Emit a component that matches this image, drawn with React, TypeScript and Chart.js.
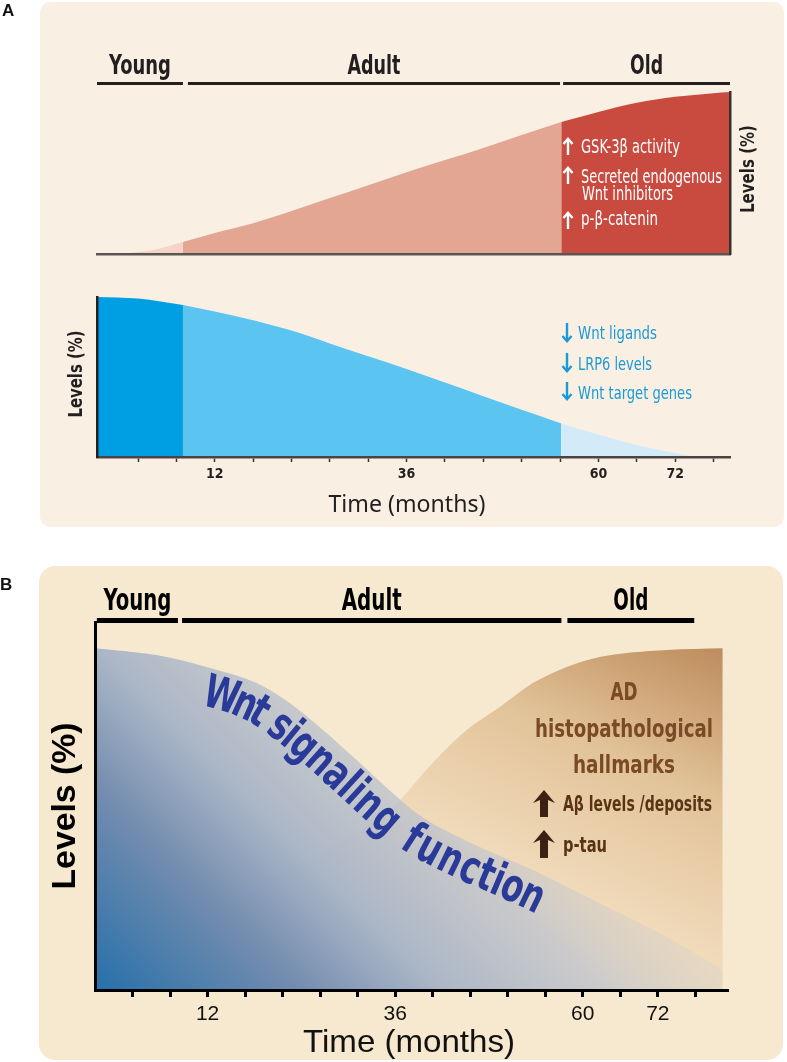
import { useEffect, useRef } from 'react';
import { Chart, registerables } from 'chart.js';

Chart.register(...registerables);

const W = 787;
const H = 1062;

// ---------- shared schematic time axis (1 unit = 1 tick mark) ----------
const tickPositions = [1, 2, 3, 4, 5, 6, 7, 8, 9, 10, 11, 12, 13, 14, 15, 16];
const tickLabels = ['', '', '', '12', '', '', '', '', '36', '', '', '', '', '60', '', '72', ''];
const phaseNames = ['Young', 'Adult', 'Old'];

// ---------- Panel A ----------
const phaseStartA = [-0.07, 2.3, 12.08];
const phaseEndA = [2.17, 12.0, 16.43];
const segmentBoundsA = [-0.07, 2.17, 12.03, 16.43];

const redX = [-0.07, 0.5, 1, 1.5, 2.17, 3, 4, 5, 6, 7, 8, 9, 10, 11, 12.03, 13, 14, 15, 16, 16.43];
const redLevels = [0, 0.3, 1.2, 3, 7.4, 13, 19, 26.5, 34.5, 42.5, 50.5, 58, 65.5, 73.5, 81.5, 87.7, 93.3, 97, 99.3, 100];
const redColors = ['#f5d3c8', '#e3a693', '#c94a3f'];

const blueX = [-0.07, 1, 2.17, 3, 4, 5, 6, 7, 8, 9, 10, 11, 12.03, 13, 14, 15, 15.5, 16, 16.43];
const blueLevels = [100, 99, 95, 91, 85.5, 79, 71, 63, 55, 46.5, 38, 29.5, 21, 14, 7.5, 2.5, 0.4, 0, 0];
const blueColors = ['#009fe3', '#5bc4f1', '#d3ebf9'];

const redNotes = ['GSK-3β activity', 'Secreted endogenous', 'Wnt inhibitors', 'p-β-catenin'];
const blueNotes = ['Wnt ligands', 'LRP6 levels', 'Wnt target genes'];

// ---------- Panel B ----------
const phaseStartB = [0.05, 2.32, 12.59];
const phaseEndB = [2.21, 12.43, 15.97];

const wntX = [0, 1.64, 2.97, 4.31, 5.19, 6.07, 6.97, 7.85, 8.65, 9.91, 11.67, 13.45, 15.24, 16.73];
const wntLevels = [92.9, 91, 87.8, 83.4, 78, 70.7, 62.5, 54.3, 47.5, 40.5, 32.6, 23.6, 14.4, 5.4];

const adX = [0, 1.72, 3.67, 5.19, 6.07, 7.85, 9, 9.91, 10.79, 11.67, 12.57, 13.45, 15.24, 16.73];
const adLevels = [0, 9.5, 23.1, 33.2, 38, 48.9, 61.7, 70.7, 76.9, 83.4, 87.8, 90.5, 92.4, 92.9];

const adTitle = ['AD', 'histopathological', 'hallmarks'];
const adNotes = ['Aβ levels /deposits', 'p-tau'];
const wntTitle = 'Wnt signaling function';
const wntTextStart = 3.1;
const wntTextEnd = 12.2;

// ---------- fonts ----------
const COND = '"DejaVu Sans Condensed", "DejaVu Sans", sans-serif';
const SANS = '"Noto Sans", "Open Sans", sans-serif';
const ARIAL = '"Liberation Sans", Arial, sans-serif';

type TOpt = {
  size: number;
  weight?: string;
  family?: string;
  color: string;
  align?: CanvasTextAlign;
  w?: number;
  rot?: number;
  base?: CanvasTextBaseline;
};

function text(ctx: CanvasRenderingContext2D, s: string, x: number, y: number, o: TOpt) {
  ctx.save();
  ctx.font = `${o.weight || 'normal'} ${o.size}px ${o.family || COND}`;
  ctx.fillStyle = o.color;
  ctx.textAlign = o.align || 'left';
  ctx.textBaseline = o.base || 'alphabetic';
  ctx.translate(x, y);
  if (o.rot) ctx.rotate(o.rot);
  if (o.w) {
    const m = ctx.measureText(s).width;
    if (m > 0) ctx.scale(o.w / m, 1);
  }
  ctx.fillText(s, 0, 0);
  ctx.restore();
}

function lineArrow(ctx: CanvasRenderingContext2D, x: number, yTip: number, yTail: number, color: string) {
  const d = yTail > yTip ? 1 : -1;
  ctx.save();
  ctx.strokeStyle = color;
  ctx.lineWidth = 2.4;
  ctx.beginPath();
  ctx.moveTo(x, yTail);
  ctx.lineTo(x, yTip + d);
  ctx.stroke();
  ctx.beginPath();
  ctx.moveTo(x - 4.5, yTip + d * 6);
  ctx.lineTo(x, yTip + d * 0.8);
  ctx.lineTo(x + 4.5, yTip + d * 6);
  ctx.stroke();
  ctx.restore();
}

function blockArrow(ctx: CanvasRenderingContext2D, x: number, yTip: number, yTail: number, color: string) {
  const hw = 11;
  const hh = 13;
  const sw = 4;
  ctx.save();
  ctx.fillStyle = color;
  ctx.beginPath();
  ctx.moveTo(x, yTip);
  ctx.lineTo(x + hw, yTip + hh);
  ctx.lineTo(x + sw, yTip + hh - 3);
  ctx.lineTo(x + sw, yTail);
  ctx.lineTo(x - sw, yTail);
  ctx.lineTo(x - sw, yTip + hh - 3);
  ctx.lineTo(x - hw, yTip + hh);
  ctx.closePath();
  ctx.fill();
  ctx.restore();
}

type P = { x: number; y: number };

function curvePoints(meta: any): P[] {
  const els = meta.data as any[];
  const out: P[] = [];
  for (let i = 0; i < els.length; i++) {
    const a = els[i];
    if (i === 0) out.push({ x: a.x, y: a.y });
    if (i < els.length - 1) {
      const b = els[i + 1];
      const c1 = { x: a.cp2x ?? a.x, y: a.cp2y ?? a.y };
      const c2 = { x: b.cp1x ?? b.x, y: b.cp1y ?? b.y };
      for (let k = 1; k <= 12; k++) {
        const t = k / 12;
        const u = 1 - t;
        out.push({
          x: u * u * u * a.x + 3 * u * u * t * c1.x + 3 * u * t * t * c2.x + t * t * t * b.x,
          y: u * u * u * a.y + 3 * u * u * t * c1.y + 3 * u * t * t * c2.y + t * t * t * b.y,
        });
      }
    }
  }
  return out;
}

function textOnPath(
  ctx: CanvasRenderingContext2D,
  str: string,
  pts: P[],
  xStart: number,
  xEnd: number,
  offset: number,
  size: number,
  color: string
) {
  const cum = [0];
  for (let i = 1; i < pts.length; i++) {
    cum.push(cum[i - 1] + Math.hypot(pts[i].x - pts[i - 1].x, pts[i].y - pts[i - 1].y));
  }
  const total = cum[cum.length - 1];
  const sAtX = (x: number) => {
    for (let i = 1; i < pts.length; i++) {
      if (pts[i].x >= x) {
        const t = (x - pts[i - 1].x) / (pts[i].x - pts[i - 1].x || 1);
        return cum[i - 1] + t * (cum[i] - cum[i - 1]);
      }
    }
    return total;
  };
  const at = (s: number): P => {
    s = Math.max(0, Math.min(total, s));
    for (let i = 1; i < pts.length; i++) {
      if (cum[i] >= s) {
        const t = (s - cum[i - 1]) / (cum[i] - cum[i - 1] || 1);
        return { x: pts[i - 1].x + t * (pts[i].x - pts[i - 1].x), y: pts[i - 1].y + t * (pts[i].y - pts[i - 1].y) };
      }
    }
    return pts[pts.length - 1];
  };
  const s0 = sAtX(xStart);
  const s1 = sAtX(xEnd);
  ctx.save();
  ctx.font = `bold ${size}px ${COND}`;
  const chars = Array.from(str);
  const widths = chars.map((c) => ctx.measureText(c).width);
  const sum = widths.reduce((a, b) => a + b, 0);
  const k = (s1 - s0) / sum;
  ctx.fillStyle = color;
  ctx.textAlign = 'center';
  ctx.textBaseline = 'alphabetic';
  let s = s0;
  chars.forEach((c, i) => {
    const w = widths[i] * k;
    const sm = s + w / 2;
    const pa = at(sm - 12);
    const pb = at(sm + 12);
    const ang = Math.atan2(pb.y - pa.y, pb.x - pa.x);
    const p = at(sm);
    const nx = -Math.sin(ang);
    const ny = Math.cos(ang);
    ctx.save();
    ctx.translate(p.x + nx * offset, p.y + ny * offset);
    ctx.rotate(ang);
    ctx.scale(k, 1);
    ctx.fillText(c, 0, 0);
    ctx.restore();
    s += w;
  });
  ctx.restore();
}

function segments(xs: number[], ys: number[], bounds: number[], colors: string[]) {
  return colors.map((c, i) => ({
    data: xs
      .map((x, j) => ({ x, y: ys[j] }))
      .filter((p) => p.x >= bounds[i] - 1e-9 && p.x <= bounds[i + 1] + 1e-9),
    backgroundColor: c,
    borderWidth: 0,
    pointRadius: 0,
    fill: 'origin',
    cubicInterpolationMode: 'monotone' as const,
  }));
}

const hiddenAxis = (extra: any) => ({
  display: true,
  grid: { display: false },
  ticks: { display: false },
  ...extra,
});

function common(padding: any) {
  return {
    responsive: false,
    maintainAspectRatio: false,
    animation: false as const,
    events: [] as any[],
    layout: { padding },
    plugins: { legend: { display: false }, tooltip: { enabled: false } },
  };
}

export default function App() {
  const r1 = useRef<HTMLCanvasElement>(null);
  const r2 = useRef<HTMLCanvasElement>(null);
  const r3 = useRef<HTMLCanvasElement>(null);

  useEffect(() => {
    // ---------------- Panel A, top (red) ----------------
    const a1 = new Chart(r1.current!, {
      type: 'line',
      data: { datasets: segments(redX, redLevels, segmentBoundsA, redColors) as any },
      options: {
        ...common({ left: 97, right: W - 730, top: 92, bottom: H - 254 }),
        scales: {
          x: hiddenAxis({
            type: 'linear',
            min: -0.07,
            max: 16.43,
            border: { display: true, color: '#5a5551', width: 2.5, z: 1 },
            afterFit: (s: any) => {
              s.height = 0;
            },
          }),
          y: hiddenAxis({
            type: 'linear',
            position: 'right',
            min: 0,
            max: 100,
            border: { display: true, color: '#3a302c', width: 2.5, z: 1 },
            afterFit: (s: any) => {
              s.width = 0;
            },
          }),
        },
      } as any,
      plugins: [
        {
          id: 'panelAtop',
          afterDraw(chart: any) {
            const ctx = chart.ctx as CanvasRenderingContext2D;
            const x = chart.scales.x;
            text(ctx, 'A', 2, 16, { size: 17, weight: 'bold', family: ARIAL, color: '#111' });
            const labW = [62, 53, 33];
            phaseNames.forEach((n, i) => {
              const x0 = x.getPixelForValue(phaseStartA[i]);
              const x1 = x.getPixelForValue(phaseEndA[i]);
              ctx.fillStyle = '#231f20';
              ctx.fillRect(x0, 82, x1 - x0, 3);
              text(ctx, n, (x0 + x1) / 2, 74, { size: 26, weight: 'bold', color: '#231f20', align: 'center', w: labW[i] });
            });
            // notes in the red area
            const nx = 581;
            lineArrow(ctx, 568, 138, 155, '#ffffff');
            text(ctx, redNotes[0], nx, 153, { size: 20, color: '#ffffff', w: 99 });
            lineArrow(ctx, 568, 167, 184, '#ffffff');
            text(ctx, redNotes[1], nx, 183, { size: 20, color: '#ffffff', w: 141 });
            text(ctx, redNotes[2], nx + 1, 200, { size: 20, color: '#ffffff', w: 91 });
            lineArrow(ctx, 568, 212, 229, '#ffffff');
            text(ctx, redNotes[3], nx, 225, { size: 20, color: '#ffffff', w: 77 });
            text(ctx, 'Levels (%)', 749, 169, {
              size: 20,
              weight: 'bold',
              color: '#231f20',
              align: 'center',
              base: 'middle',
              rot: -Math.PI / 2,
              w: 88,
            });
          },
        },
      ],
    });

    // ---------------- Panel A, bottom (blue) ----------------
    const a2 = new Chart(r2.current!, {
      type: 'line',
      data: { datasets: segments(blueX, blueLevels, segmentBoundsA, blueColors) as any },
      options: {
        ...common({ left: 97, right: W - 730, top: 297, bottom: H - 457 - 30 }),
        scales: {
          x: {
            type: 'linear',
            min: -0.07,
            max: 16.43,
            afterBuildTicks: (s: any) => {
              s.ticks = tickPositions.map((v) => ({ value: v }));
            },
            afterFit: (s: any) => {
              s.height = 30;
            },
            grid: {
              display: true,
              drawOnChartArea: false,
              drawTicks: true,
              tickLength: 5,
              tickColor: '#3a302c',
              tickWidth: 1.5,
              z: 1,
            },
            border: { display: true, color: '#4a4541', width: 2.5, z: 1 },
            ticks: {
              autoSkip: false,
              maxRotation: 0,
              padding: 4,
              color: '#231f20',
              font: { family: COND, weight: 'bold', size: 14 },
              callback: (v: any) => tickLabels[v] ?? '',
            },
          },
          y: hiddenAxis({
            type: 'linear',
            min: 0,
            max: 100,
            border: { display: true, color: '#231f20', width: 2.5, z: 1 },
            afterFit: (s: any) => {
              s.width = 0;
            },
          }),
        },
      } as any,
      plugins: [
        {
          id: 'panelAbottom',
          afterDraw(chart: any) {
            const ctx = chart.ctx as CanvasRenderingContext2D;
            const c = '#1a9ad6';
            lineArrow(ctx, 567, 342, 323, c);
            text(ctx, blueNotes[0], 578, 339, { size: 18, color: c, w: 79 });
            lineArrow(ctx, 567, 372, 353, c);
            text(ctx, blueNotes[1], 578, 370, { size: 18, color: c, w: 74 });
            lineArrow(ctx, 567, 400, 382, c);
            text(ctx, blueNotes[2], 578, 399, { size: 18, color: c, w: 114 });
            text(ctx, 'Levels (%)', 77, 374, {
              size: 20,
              weight: 'bold',
              color: '#231f20',
              align: 'center',
              base: 'middle',
              rot: -Math.PI / 2,
              w: 87,
            });
            text(ctx, 'Time (months)', 407, 512, { size: 24, family: SANS, color: '#231f20', align: 'center', w: 157 });
          },
        },
      ],
    });

    // ---------------- Panel B ----------------
    const blueGrad = (c: any) => {
      const a = c.chart.chartArea;
      if (!a) return 'rgba(0,0,0,0)';
      const L = a.bottom - a.top + 97;
      const g = c.chart.ctx.createLinearGradient(a.left, a.bottom, a.left + L, a.bottom - L);
      g.addColorStop(0, 'rgba(38,112,170,1)');
      g.addColorStop(0.22, 'rgba(115,140,175,1)');
      g.addColorStop(0.37, 'rgba(166,179,198,0.95)');
      g.addColorStop(0.54, 'rgba(192,196,204,0.82)');
      g.addColorStop(0.62, 'rgba(205,203,200,0.6)');
      g.addColorStop(0.7, 'rgba(215,210,200,0.35)');
      g.addColorStop(0.85, 'rgba(230,225,215,0)');
      return g;
    };
    const brownGrad = (c: any) => {
      const a = c.chart.chartArea;
      if (!a) return 'rgba(0,0,0,0)';
      const g = c.chart.ctx.createLinearGradient(a.right - 5, a.top + 26, a.right - 168, a.bottom);
      g.addColorStop(0, 'rgb(189,140,92)');
      g.addColorStop(0.38, 'rgb(226,195,153)');
      g.addColorStop(0.75, 'rgb(240,218,186)');
      g.addColorStop(1, 'rgb(245,228,202)');
      return g;
    };

    const b = new Chart(r3.current!, {
      type: 'line',
      data: {
        datasets: [
          {
            data: wntX.map((x, i) => ({ x, y: wntLevels[i] })),
            backgroundColor: blueGrad,
            borderWidth: 0,
            pointRadius: 0,
            fill: 'origin',
            cubicInterpolationMode: 'monotone',
          },
          {
            data: adX.map((x, i) => ({ x, y: adLevels[i] })),
            backgroundColor: brownGrad,
            borderWidth: 0,
            pointRadius: 0,
            fill: 'origin',
            cubicInterpolationMode: 'monotone',
          },
        ] as any,
      },
      options: {
        ...common({ left: 95, right: W - 728, top: 622, bottom: H - 990 - 40 }),
        scales: {
          x: {
            type: 'linear',
            min: 0,
            max: 16.87,
            afterBuildTicks: (s: any) => {
              s.ticks = tickPositions.map((v) => ({ value: v }));
            },
            afterFit: (s: any) => {
              s.height = 40;
            },
            grid: {
              display: true,
              drawOnChartArea: false,
              drawTicks: true,
              tickLength: 7,
              tickColor: '#000',
              tickWidth: 3,
              z: 1,
            },
            border: { display: true, color: '#000', width: 3, z: 1 },
            ticks: {
              autoSkip: false,
              maxRotation: 0,
              padding: 5,
              color: '#111',
              font: { family: ARIAL, size: 21 },
              callback: (v: any) => tickLabels[v] ?? '',
            },
          },
          y: hiddenAxis({
            type: 'linear',
            min: 0,
            max: 100,
            border: { display: true, color: '#000', width: 3, z: 1 },
            afterFit: (s: any) => {
              s.width = 0;
            },
          }),
        },
      } as any,
      plugins: [
        {
          id: 'panelB',
          afterDraw(chart: any) {
            const ctx = chart.ctx as CanvasRenderingContext2D;
            const x = chart.scales.x;
            text(ctx, 'B', 0, 590, { size: 17, weight: 'bold', family: ARIAL, color: '#111' });
            const labW = [68, 60, 35];
            phaseNames.forEach((n, i) => {
              const x0 = x.getPixelForValue(phaseStartB[i]);
              const x1 = x.getPixelForValue(phaseEndB[i]);
              ctx.fillStyle = '#000';
              ctx.fillRect(x0, 618, x1 - x0, 5);
              text(ctx, n, (x0 + x1) / 2, 610, { size: 30, weight: 'bold', color: '#000', align: 'center', w: labW[i] });
            });
            // AD annotation
            const hc = '#7a4a24';
            text(ctx, adTitle[0], 624, 700, { size: 24, weight: 'bold', color: hc, align: 'center', w: 27 });
            text(ctx, adTitle[1], 624, 737, { size: 24, weight: 'bold', color: hc, align: 'center', w: 178 });
            text(ctx, adTitle[2], 624, 773, { size: 24, weight: 'bold', color: hc, align: 'center', w: 102 });
            const nc = '#5a3317';
            blockArrow(ctx, 544, 790, 817, '#3a2112');
            text(ctx, adNotes[0], 563, 811, { size: 21, weight: 'bold', color: nc, w: 149 });
            blockArrow(ctx, 544, 830, 858, '#3a2112');
            text(ctx, adNotes[1], 563, 852, { size: 21, weight: 'bold', color: nc, w: 44 });
            // Wnt text along the Wnt curve
            const pts = curvePoints(chart.getDatasetMeta(0));
            textOnPath(ctx, wntTitle, pts, x.getPixelForValue(wntTextStart), x.getPixelForValue(wntTextEnd), 38, 46, '#2a3a99');
            text(ctx, 'Levels (%)', 66, 806, {
              size: 34,
              weight: 'bold',
              family: ARIAL,
              color: '#000',
              align: 'center',
              base: 'middle',
              rot: -Math.PI / 2,
              w: 167,
            });
            text(ctx, 'Time (months)', 409, 1052, { size: 32, family: ARIAL, color: '#111', align: 'center', w: 212 });
          },
        },
      ],
    });

    return () => {
      a1.destroy();
      a2.destroy();
      b.destroy();
    };
  }, []);

  const cv: any = { position: 'absolute', left: 0, top: 0, width: W, height: H };
  return (
    <div style={{ position: 'absolute', left: 0, top: 0, width: W, height: H, background: '#ffffff', overflow: 'hidden' }}>
      <div style={{ position: 'absolute', left: 40, top: 2, width: 744, height: 525, background: '#f9f0e3', borderRadius: 10 }} />
      <div style={{ position: 'absolute', left: 39, top: 566, width: 744, height: 494, background: '#f7e9cf', borderRadius: 16 }} />
      <canvas ref={r1} width={W} height={H} style={cv} />
      <canvas ref={r2} width={W} height={H} style={cv} />
      <canvas ref={r3} width={W} height={H} style={cv} />
    </div>
  );
}
